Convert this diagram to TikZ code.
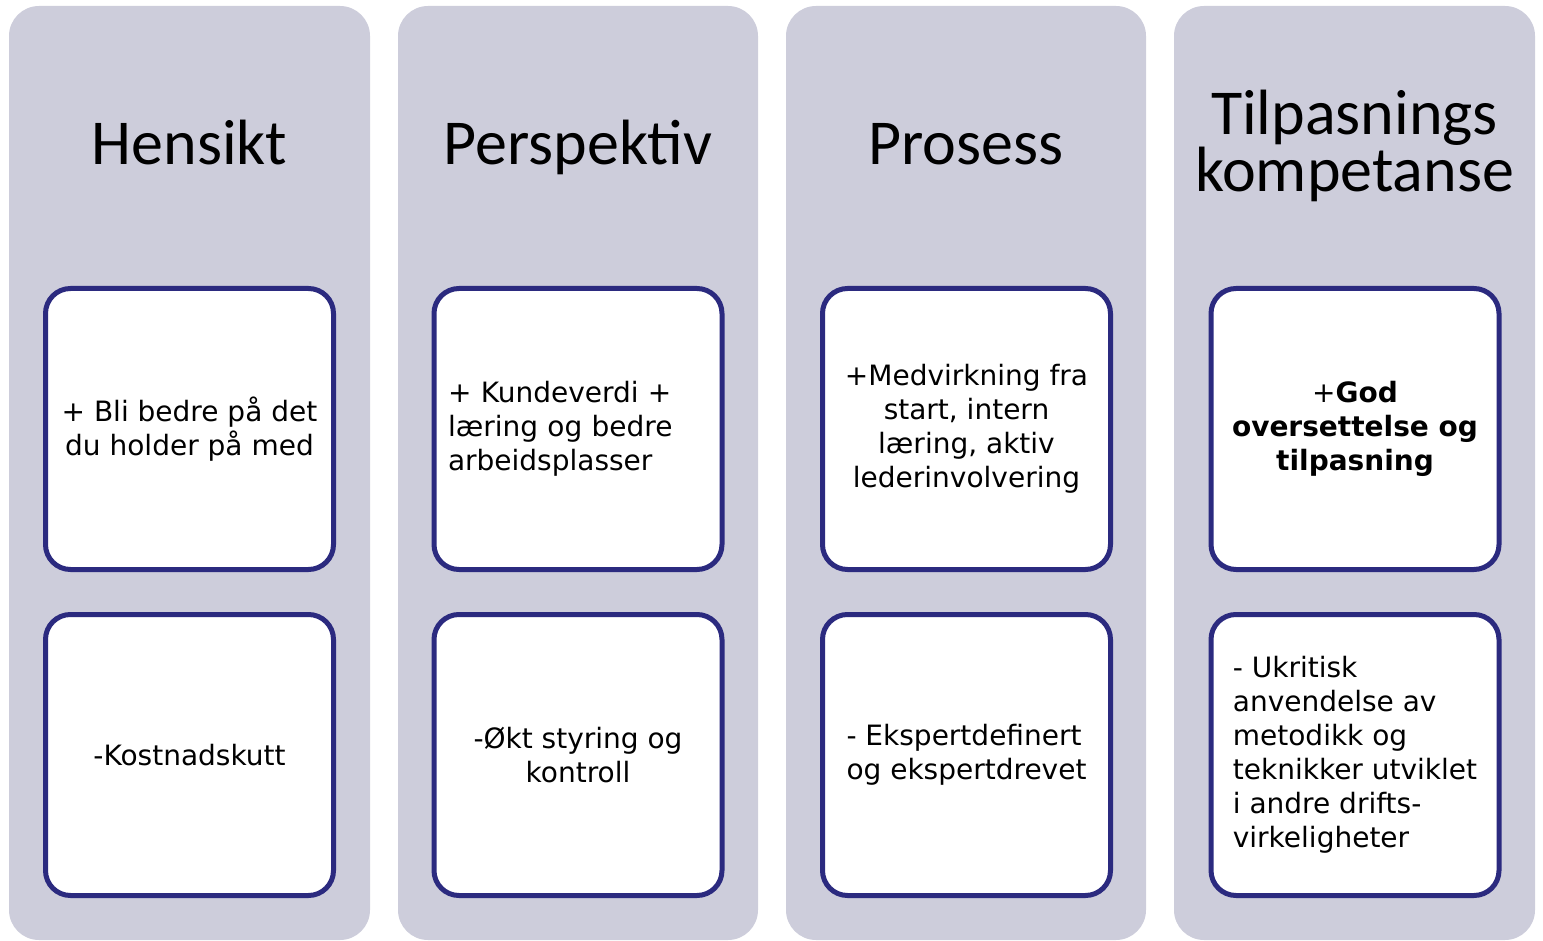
\documentclass[tikz,border=0pt]{standalone}
\usepackage{fontspec}
\setmainfont{DejaVu Sans}
\newfontfamily\headfont{Carlito}
\usepackage{tikz}

\definecolor{colgray}{RGB}{205,205,219}
\definecolor{boxnavy}{RGB}{43,42,127}

\begin{document}
\begin{tikzpicture}[x=1pt, y=-1pt,
  column/.style={fill=colgray, rounded corners=30pt},
  heading/.style={font=\headfont\fontsize{64}{57}\selectfont, align=center, anchor=base},
  card/.style={draw=boxnavy, line width=5pt, fill=white, rounded corners=25pt,
    minimum width=288pt, minimum height=281pt, inner sep=0pt, align=center,
    font=\fontsize{28}{34}\selectfont}]
\useasboundingbox (0,0) rectangle (1543,941);

\fill[column] (9,6) rectangle (370,940);
\fill[column] (398,6) rectangle (758,940);
\fill[column] (786,6) rectangle (1146,940);
\fill[column] (1174,6) rectangle (1535,940);

\node[heading] (hensikt) at (189.5,165) {Hensikt};
\node[heading] (perspektiv) at (578,165) {Perspektiv};
\node[heading] (prosess) at (966,165) {Prosess};
\node[heading] (tilpasning) at (1354.5,192) {Tilpasnings\\kompetanse};

\node[card] (hensikt-pluss) at (189.5,429) {+ Bli bedre på det\\du holder på med};
\node[card] (hensikt-minus) at (189.5,755) {-Kostnadskutt};

\node[card, text width=260pt, align=left] (perspektiv-pluss) at (578,429) {+ Kundeverdi +\\læring og bedre\\arbeidsplasser};
\node[card] (perspektiv-minus) at (578,755) {-Økt styring og\\kontroll};

\node[card] (prosess-pluss) at (966.5,429) {+Medvirkning fra\\start, intern\\læring, aktiv\\lederinvolvering};
\node[card, align=left] (prosess-minus) at (966.5,755) {- Ekspertdefinert\\og ekspertdrevet};

\node[card] (tilpasning-pluss) at (1355,429) {+\textbf{God}\\\textbf{oversettelse og}\\\textbf{tilpasning}};
\node[card, align=left] (tilpasning-minus) at (1355,755) {- Ukritisk\\anvendelse av\\metodikk og\\teknikker utviklet\\i andre drifts-\\virkeligheter};
\end{tikzpicture}
\end{document}
